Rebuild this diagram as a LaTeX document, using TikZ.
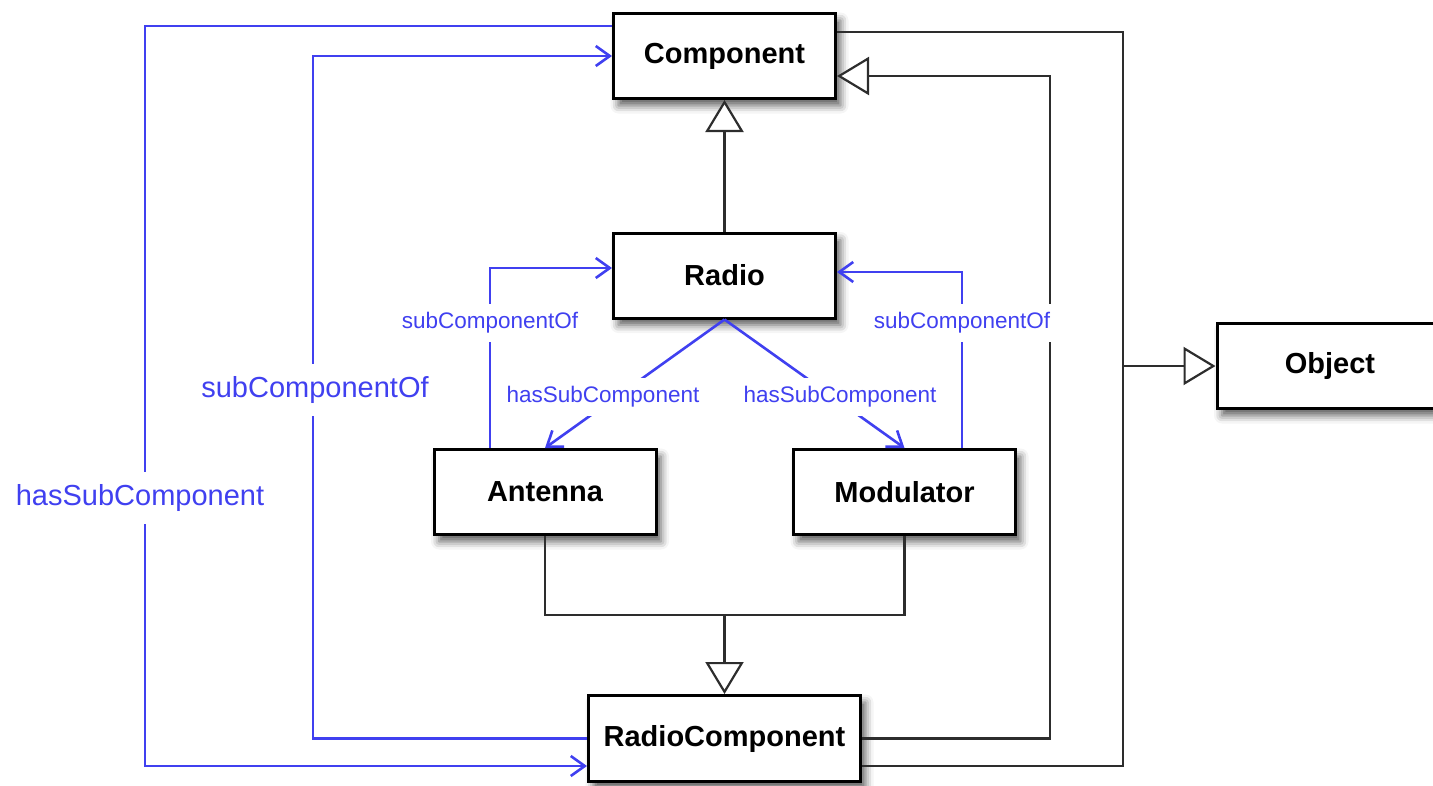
\documentclass[tikz,border=0pt]{standalone}
\usepackage{fontspec}
\setmainfont{Liberation Sans}
\usetikzlibrary{arrows.meta,shadows.blur,calc}
\definecolor{lnblue}{RGB}{64,64,240}
\definecolor{lnblack}{RGB}{45,45,45}
\begin{document}
\begin{tikzpicture}[x=1pt,y=-1pt,
  cls/.style={draw=black, line width=3pt, fill=white, minimum width=222pt, minimum height=85pt,
    font=\fontsize{29}{32}\selectfont\bfseries,
    blur shadow={shadow xshift=5pt,shadow yshift=-7pt,shadow blur radius=8pt,shadow opacity=65}},
  inh/.style={draw=lnblack, line width=2.2pt, -{Triangle[length=32pt,width=38pt,fill=white,line width=2.2pt]}},
  assoc/.style={draw=lnblue, line width=2.6pt, -{Straight Barb[length=14pt,width=20pt]}},
  plain/.style={draw=lnblack, line width=2.2pt},
  biglbl/.style={text=lnblue, fill=white, font=\fontsize{29}{32}\selectfont, inner xsep=1pt, inner ysep=12pt},
  smlbl/.style={text=lnblue, fill=white, font=\fontsize{22.5}{25}\selectfont, inner xsep=1pt, inner ysep=9pt}]
\useasboundingbox (0,0) rectangle (1433,785);

\node[cls] (comp) at (724.5,56) {Component};
\node[cls] (radio) at (724.5,275.5) {Radio};
\node[cls] (ant) at (545,492) {Antenna};
\node[cls] (mod) at (904.5,492) {Modulator};
\node[cls, minimum width=272pt, minimum height=86pt] (rc) at (724.5,738.5) {RadioComponent};
\node[cls, minimum width=226pt] (obj) at (1330,366) {Object};

% generalizations
\draw[inh] (radio.north) -- (comp.south);
\coordinate (jn) at (724.5,615);
\draw[plain] (ant.south) |- (jn) -| (mod.south);
\draw[inh] (jn) -- (rc.north);

\coordinate (oj) at (1123,366);
\draw[plain] (comp.east |- 0,32) -| (oj);
\draw[plain] (rc.east |- 0,766) -| (oj);
\draw[inh] (oj) -- (obj.west);

\coordinate (rj) at (1050,76);
\draw[inh] (rc.east) -| (rj) -- (comp.east |- rj);

% outer associations
\coordinate (hj) at (145,766);
\draw[assoc] (comp.west |- 0,26) -| (hj) -- (rc.west |- hj);
\node[biglbl] (hl) at (140,498) {hasSubComponent};
\coordinate (sj) at (313,56);
\draw[assoc] (rc.west) -| (sj) -- (comp.west);
\node[biglbl] (sl) at (315,390) {subComponentOf};

% inner associations
\draw[assoc] (ant.north -| 490,0) |- (radio.west |- 0,268);
\draw[assoc] (mod.north -| 962,0) |- (radio.east |- 0,272);
\draw[assoc] (radio.south) -- (ant.north);
\draw[assoc] (radio.south) -- (mod.north);
\node[smlbl] (sl1) at (490,323) {subComponentOf};
\node[smlbl] (sl2) at (962,323) {subComponentOf};
\node[smlbl] (hl1) at (603,397) {hasSubComponent};
\node[smlbl] (hl2) at (840,397) {hasSubComponent};
\end{tikzpicture}
\end{document}
